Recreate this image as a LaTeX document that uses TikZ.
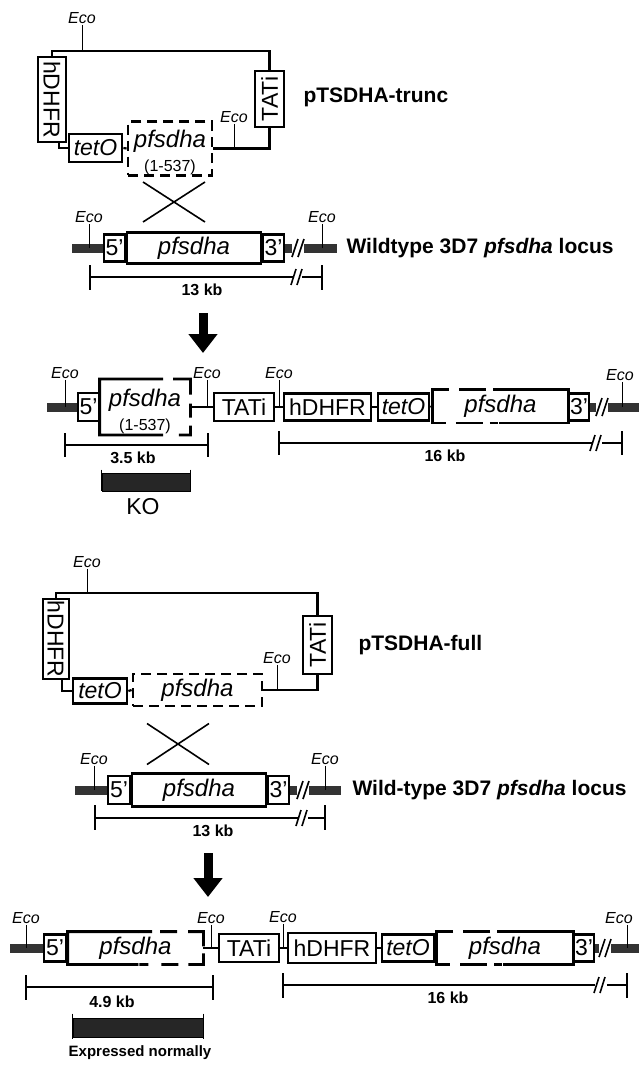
\documentclass[tikz,border=0pt]{standalone}
\usepackage{fontspec}
\setmainfont{Liberation Sans}
\usetikzlibrary{arrows.meta,calc}

\begin{document}
\begin{tikzpicture}[x=1pt, y=-1pt,
  gene/.style={draw, line width=2.8pt, inner sep=0pt, fill=white, font=\fontsize{23}{23}\selectfont},
  igene/.style={gene, font=\fontsize{23}{23}\selectfont\itshape},
  pfs/.style={gene, font=\fontsize{24}{24}\selectfont\itshape},
  dgene/.style={pfs, dash pattern=on 10pt off 6pt},
  hgene/.style={pfs, draw=none},
  bline/.style={line width=2.8pt},
  plas/.style={line width=2.2pt},
  eco/.style={inner sep=1pt, font=\fontsize{16}{16}\selectfont\itshape},
  ecotick/.style={line width=0.8pt},
  chrom/.style={line width=9pt, black!80},
  brk/.style={line width=1.6pt},
  ruler/.style={line width=1.3pt},
  kb/.style={font=\fontsize{16}{16}\selectfont\bfseries},
  title/.style={anchor=west, font=\fontsize{21}{21}\selectfont\bfseries},
  cross/.style={line width=1.6pt},
  bigarr/.style={line width=9pt, -{Triangle[width=28pt,length=19pt]}},
  band/.style={draw, fill=black!85, line width=0.8pt, inner sep=0pt}
]
\path[use as bounding box, fill=white] (0,0) rectangle (638,1065);

\node[eco] (e1a) at (82,18) {Eco};
\coordinate (top1) at (52,51);
\node[gene, rotate=-90, minimum width=85, minimum height=28] (hd1) at (52,99.5) {hDHFR};
\node[gene, rotate=90, minimum width=56, minimum height=29] (ta1) at (269.5,99) {TATi};
\node[igene, minimum width=53, minimum height=28] (te1) at (95.5,148) {tetO};
\node[dgene, minimum width=84, minimum height=51, align=center] (pf1) at (170,148.5) {\rule{0pt}{26pt}pfsdha\\[0pt]{\fontsize{16}{16}\selectfont\upshape (1-537)}};
\node[eco] (e1b) at (234,117) {Eco};
\node[title] (n1) at (300,97) {pTSDHA-trunc};
\draw[plas] (hd1.west) -- (top1) -| (ta1.east);
\draw[ecotick] (e1a.south) -- (e1a.south |- top1);
\draw[plas] ($(hd1.east)+(7,0)$) |- (te1.west);
\draw[plas] (te1.east) -- (pf1.west);
\draw[plas] (pf1.east) -| (ta1.west);
\draw[ecotick] (e1b.south) -- (e1b.south |- pf1.east);

\coordinate (x1) at (174,202);
\draw[cross] ($(x1)+(-31,-20)$) -- ($(x1)+(31,20)$);
\draw[cross] ($(x1)+(31,-20)$) -- ($(x1)+(-31,20)$);

\coordinate (r2) at (0,248);
\coordinate (c2a) at (72,248);
\coordinate (c2b) at (292,248);
\coordinate (c2c) at (304,248);
\coordinate (c2d) at (337,248);
\draw[chrom] (c2a) -- (c2b);
\draw[chrom] (c2c) -- (c2d);
\node[gene, minimum width=21, minimum height=27] (f2) at (114.5,248) {5'};
\node[pfs, minimum width=134, minimum height=31] (pf2) at (194,248) {pfsdha};
\node[gene, minimum width=21, minimum height=27] (t2) at (273.5,248) {3'};
\draw[brk] (292,257) -- (298,239);
\draw[brk] (298,257) -- (304,239);
\node[eco] (e2a) at (89,217) {Eco};
\node[eco] (e2b) at (322,217) {Eco};
\draw[ecotick] (e2a.south) -- (e2a.south |- r2);
\draw[ecotick] (e2b.south) -- (e2b.south |- r2);
\node[title] (n2) at (343,248) {Wildtype 3D7 \textit{pfsdha} locus};
\draw[ruler] (90,277) -- (293,277);
\draw[ruler] (302,277) -- (322,277);
\draw[ruler] (90,265) -- (90,290);
\draw[ruler] (322,265) -- (322,290);
\draw[brk] (291,285) -- (296,269);
\draw[brk] (297,285) -- (302,269);
\node[kb] (k2) at (202,290) {13 kb};

\coordinate (a1) at (203,313);
\coordinate (a1e) at (203,353);
\draw[bigarr] (a1) -- (a1e);

\coordinate (r3) at (0,407);
\coordinate (c3a) at (47,407);
\coordinate (c3b) at (596,407);
\coordinate (c3c) at (608,407);
\coordinate (c3d) at (640,407);
\draw[chrom] (c3a) -- (88,407);
\draw[chrom] (570,407) -- (c3b);
\draw[chrom] (c3c) -- (c3d);
\node[gene, minimum width=21, minimum height=28] (f3) at (88.5,407) {5'};
\node[hgene, minimum width=88, minimum height=51, align=center] (pf3a) at (145,407) {\rule{0pt}{26pt}pfsdha\\[0pt]{\fontsize{16}{16}\selectfont\upshape (1-537)}};
\node[gene, minimum width=60, minimum height=28] (ta3) at (244,407) {TATi};
\node[gene, minimum width=87, minimum height=27] (hd3) at (327.5,407) {hDHFR};
\node[igene, minimum width=51, minimum height=27] (te3) at (403.5,407) {tetO};
\node[hgene, minimum width=133, minimum height=31] (pf3b) at (500.5,406) {pfsdha};
\node[gene, minimum width=20, minimum height=27] (t3) at (579,407) {3'};
\draw[bline] ($(pf3a.north west)!0.7!(pf3a.north east)$) -- (pf3a.north west) -- (pf3a.south west) -- ($(pf3a.south west)!0.7!(pf3a.south east)$);
\draw[bline, dash pattern=on 0pt off 10pt on 33pt off 9pt on 14pt off 8pt on 21pt off 10pt] ($(pf3a.north west)!0.7!(pf3a.north east)$) -- (pf3a.north east) -- (pf3a.south east) -- ($(pf3a.south west)!0.7!(pf3a.south east)$);
\draw[bline] ($(pf3b.north west)!0.5!(pf3b.north east)$) -- (pf3b.north east) -- (pf3b.south east) -- ($(pf3b.south west)!0.5!(pf3b.south east)$);
\draw[bline, dash pattern=on 8pt off 7pt on 27pt off 10pt on 63pt off 10pt on 27pt off 7pt on 8pt off 1pt] ($(pf3b.north west)!0.5!(pf3b.north east)$) -- (pf3b.north west) -- (pf3b.south west) -- ($(pf3b.south west)!0.5!(pf3b.south east)$);
\draw[plas] (pf3a.east) -- (ta3.west);
\draw[plas] (ta3.east) -- (hd3.west);
\draw[plas] (hd3.east) -- (te3.west);
\draw[plas] (te3.east) -- (pf3b.west);
\draw[brk] (596,416) -- (602,398);
\draw[brk] (602,416) -- (608,398);
\node[eco] (e3a) at (65,373) {Eco};
\node[eco] (e3b) at (207,373) {Eco};
\node[eco] (e3c) at (279,373) {Eco};
\node[eco] (e3d) at (620,375) {Eco};
\draw[ecotick] (e3a.south) -- (e3a.south |- r3);
\draw[ecotick] (e3b.south) -- (e3b.south |- r3);
\draw[ecotick] (e3c.south) -- (e3c.south |- r3);
\draw[ecotick] ($(e3d.south)+(2,0)$) -- ($(e3d.south |- r3)+(2,0)$);
\draw[ruler] (65,445) -- (208,445);
\draw[ruler] (65,433) -- (65,457);
\draw[ruler] (208,433) -- (208,457);
\node[kb] (k3a) at (133,458) {3.5 kb};
\draw[ruler] (279,443) -- (592,443);
\draw[ruler] (602,443) -- (622,443);
\draw[ruler] (279,431) -- (279,455);
\draw[ruler] (622,431) -- (622,455);
\draw[brk] (590,451) -- (595,435);
\draw[brk] (596,451) -- (601,435);
\node[kb] (k3b) at (445,456) {16 kb};
\node[band, minimum width=88, minimum height=18] (ko) at (146,482) {};
\draw[ecotick] ($(ko.north west)+(0,-3)$) -- (ko.south west);
\draw[ecotick] ($(ko.north east)+(0,-3)$) -- (ko.south east);
\node[font=\fontsize{23}{23}\selectfont] (kol) at (143,507) {KO};

\node[eco] (e4a) at (87,562) {Eco};
\coordinate (top4) at (56,593);
\node[gene, rotate=-90, minimum width=80, minimum height=26] (hd4) at (56,639) {hDHFR};
\node[gene, rotate=90, minimum width=58, minimum height=29] (ta4) at (317.5,645) {TATi};
\node[igene, minimum width=54, minimum height=25] (te4) at (100,691) {tetO};
\node[dgene, minimum width=129, minimum height=32] (pf4) at (197.5,690) {pfsdha};
\node[eco] (e4b) at (277,658) {Eco};
\node[title] (n4) at (355,645) {pTSDHA-full};
\draw[plas] (hd4.west) -- (top4) -| (ta4.east);
\draw[ecotick] (e4a.south) -- (e4a.south |- top4);
\draw[plas] ($(hd4.east)+(6,0)$) |- (te4.west);
\draw[plas] (te4.east) -- (pf4.west);
\draw[plas] (pf4.east) -| (ta4.west);
\draw[ecotick] (e4b.south) -- (e4b.south |- pf4.east);

\coordinate (x2) at (178,744);
\draw[cross] ($(x2)+(-31,-20.5)$) -- ($(x2)+(31,20.5)$);
\draw[cross] ($(x2)+(31,-20.5)$) -- ($(x2)+(-31,20.5)$);

\coordinate (r5) at (0,790);
\coordinate (c5a) at (75,790);
\coordinate (c5b) at (297,790);
\coordinate (c5c) at (309,790);
\coordinate (c5d) at (341,790);
\draw[chrom] (c5a) -- (c5b);
\draw[chrom] (c5c) -- (c5d);
\node[gene, minimum width=22, minimum height=28] (f5) at (119,790) {5'};
\node[pfs, minimum width=134, minimum height=33] (pf5) at (199,790) {pfsdha};
\node[gene, minimum width=21, minimum height=28] (t5) at (278.5,790) {3'};
\draw[brk] (297,799) -- (303,781);
\draw[brk] (303,799) -- (309,781);
\node[eco] (e5a) at (94,759) {Eco};
\node[eco] (e5b) at (325,759) {Eco};
\draw[ecotick] (e5a.south) -- (e5a.south |- r5);
\draw[ecotick] (e5b.south) -- (e5b.south |- r5);
\node[title] (n5) at (349,790) {Wild-type 3D7 \textit{pfsdha} locus};
\draw[ruler] (95,818) -- (298,818);
\draw[ruler] (308,818) -- (325,818);
\draw[ruler] (95,805) -- (95,830);
\draw[ruler] (325,805) -- (325,830);
\draw[brk] (296,826) -- (301,810);
\draw[brk] (302,826) -- (307,810);
\node[kb] (k5) at (213,831) {13 kb};

\coordinate (a2) at (208,853);
\coordinate (a2e) at (208,897);
\draw[bigarr] (a2) -- (a2e);

\coordinate (r6) at (0,948);
\coordinate (c6a) at (10,948);
\coordinate (c6b) at (599,948);
\coordinate (c6c) at (611,948);
\coordinate (c6d) at (640,948);
\draw[chrom] (c6a) -- (55,948);
\draw[chrom] (575,948) -- (c6b);
\draw[chrom] (c6c) -- (c6d);
\node[gene, minimum width=22, minimum height=27] (f6) at (55,948) {5'};
\node[hgene, minimum width=133, minimum height=30] (pf6a) at (135.5,948) {pfsdha};
\node[gene, minimum width=60, minimum height=28] (ta6) at (249,948) {TATi};
\node[gene, minimum width=88, minimum height=30] (hd6) at (332,948) {hDHFR};
\node[igene, minimum width=52, minimum height=27] (te6) at (408,948) {tetO};
\node[hgene, minimum width=134, minimum height=30] (pf6b) at (505,948) {pfsdha};
\node[gene, minimum width=20, minimum height=27] (t6) at (584,948) {3'};
\draw[bline] ($(pf6a.north west)!0.52!(pf6a.north east)$) -- (pf6a.north west) -- (pf6a.south west) -- ($(pf6a.south west)!0.52!(pf6a.south east)$);
\draw[bline, dash pattern=on 14pt off 8pt on 17pt off 11pt on 30pt off 7pt on 26pt off 10pt on 17pt off 13pt on 9pt off 1pt] ($(pf6a.north west)!0.52!(pf6a.north east)$) -- (pf6a.north east) -- (pf6a.south east) -- ($(pf6a.south west)!0.52!(pf6a.south east)$);
\draw[bline] ($(pf6b.north west)!0.5!(pf6b.north east)$) -- (pf6b.north east) -- (pf6b.south east) -- ($(pf6b.south west)!0.5!(pf6b.south east)$);
\draw[bline, dash pattern=on 8pt off 7pt on 27pt off 10pt on 63pt off 10pt on 27pt off 7pt on 8pt off 1pt] ($(pf6b.north west)!0.5!(pf6b.north east)$) -- (pf6b.north west) -- (pf6b.south west) -- ($(pf6b.south west)!0.5!(pf6b.south east)$);
\draw[plas] (pf6a.east) -- (ta6.west);
\draw[plas] (ta6.east) -- (hd6.west);
\draw[plas] (hd6.east) -- (te6.west);
\draw[plas] (te6.east) -- (pf6b.west);
\draw[brk] (599,957) -- (605,939);
\draw[brk] (605,957) -- (611,939);
\node[eco] (e6a) at (26,918) {Eco};
\node[eco] (e6b) at (211,918) {Eco};
\node[eco] (e6c) at (283,917) {Eco};
\node[eco] (e6d) at (619,918) {Eco};
\draw[ecotick] (e6a.south) -- (e6a.south |- r6);
\draw[ecotick] (e6b.south) -- (e6b.south |- r6);
\draw[ecotick] (e6c.south) -- (e6c.south |- r6);
\draw[ecotick] ($(e6d.south)+(8,0)$) -- ($(e6d.south |- r6)+(8,0)$);
\draw[ruler] (26,987) -- (213,987);
\draw[ruler] (26,975) -- (26,1000);
\draw[ruler] (213,975) -- (213,1000);
\node[kb] (k6a) at (112,1002) {4.9 kb};
\draw[ruler] (283,985) -- (595,985);
\draw[ruler] (607,985) -- (627,985);
\draw[ruler] (283,973) -- (283,998);
\draw[ruler] (627,973) -- (627,998);
\draw[brk] (594,993) -- (599,977);
\draw[brk] (600,993) -- (605,977);
\node[kb] (k6b) at (448,998) {16 kb};
\node[band, minimum width=130, minimum height=19] (ex) at (138,1027.5) {};
\draw[ecotick] ($(ex.north west)+(0,-4)$) -- ($(ex.south west)+(0,2)$);
\draw[ecotick] ($(ex.north east)+(0,-4)$) -- ($(ex.south east)+(0,2)$);
\node[font=\fontsize{15}{15}\selectfont\bfseries] (exl) at (140,1053) {Expressed normally};
\end{tikzpicture}
\end{document}
